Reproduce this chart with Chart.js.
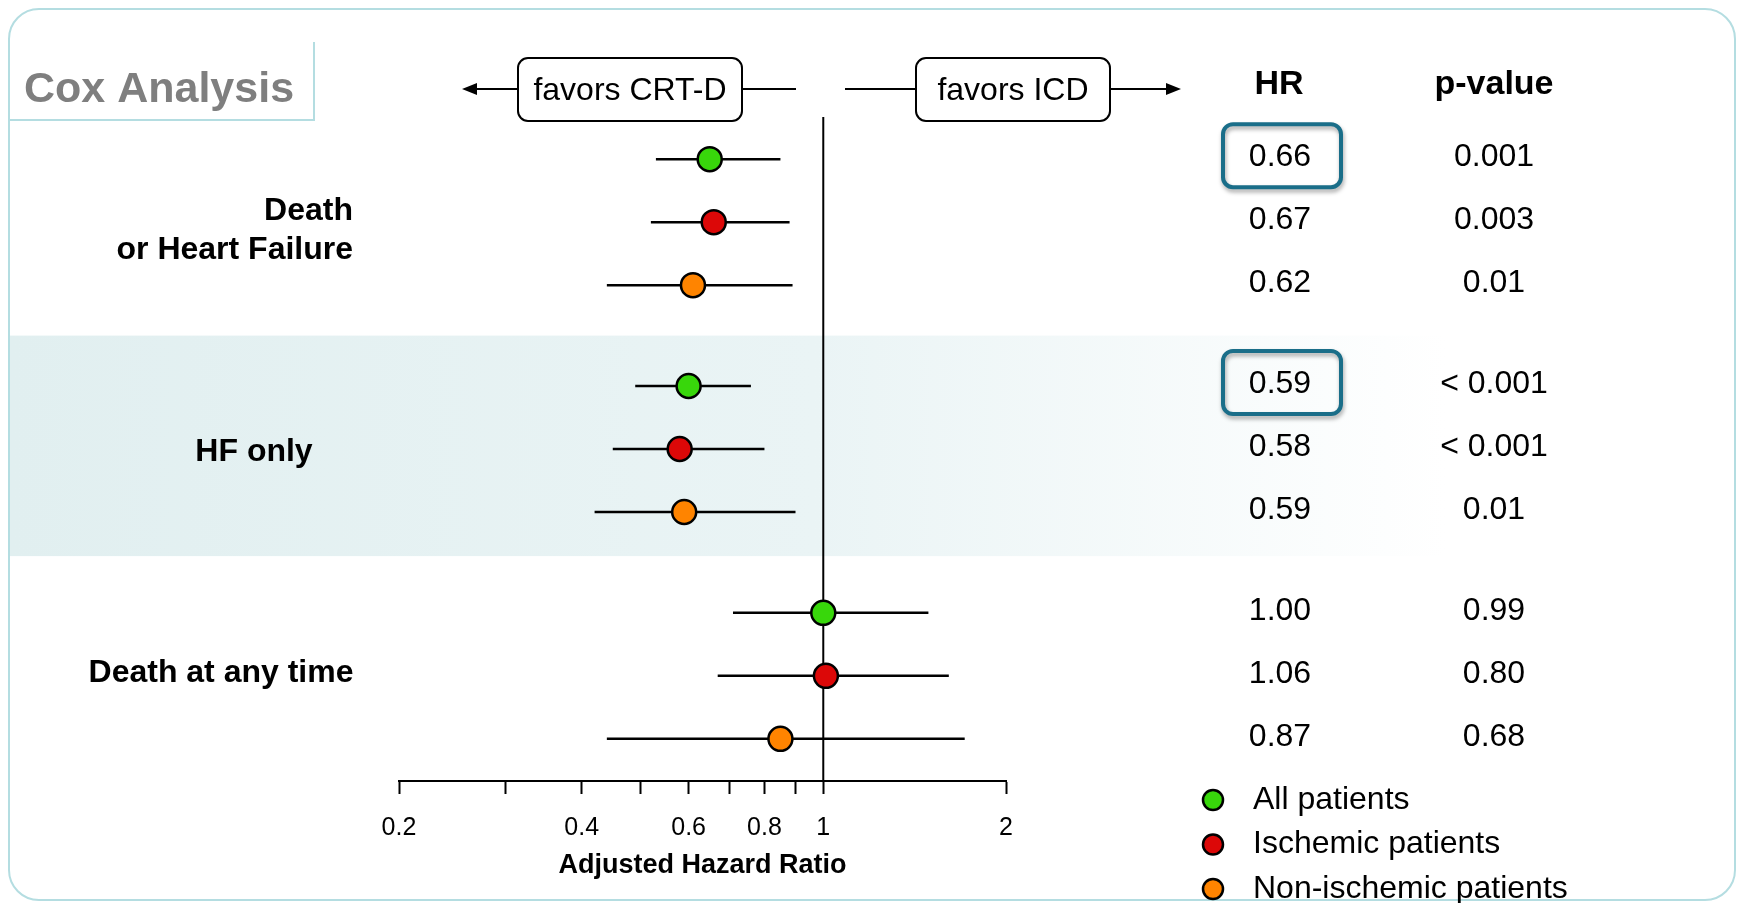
<!DOCTYPE html>
<html>
<head>
<meta charset="utf-8">
<script src="https://cdn.jsdelivr.net/npm/chart.js@4.4.1/dist/chart.umd.min.js"></script>
<style>
  html, body { margin: 0; padding: 0; background: #fff; }
  canvas { display: block; }
</style>
</head>
<body>
<canvas id="coxChart" width="1744" height="903"></canvas>
<script>
// values
const groups = ['Death\nor Heart Failure', 'HF only', 'Death at any time'];
const seriesNames = ['All patients', 'Ischemic patients', 'Non-ischemic patients'];
const seriesColors = ['#38d70b', '#dc0808', '#ff8400'];

// one entry per row: group 1 (all, ischemic, non-ischemic), group 2 ..., group 3 ...
const hrPoint = [0.65, 0.66, 0.61, 0.60, 0.58, 0.59, 1.00, 1.01, 0.85];
const ciLow   = [0.53, 0.52, 0.44, 0.49, 0.45, 0.42, 0.71, 0.67, 0.44];
const ciHigh  = [0.85, 0.88, 0.89, 0.76, 0.80, 0.90, 1.49, 1.61, 1.71];
const hrText  = ['0.66', '0.67', '0.62', '0.59', '0.58', '0.59', '1.00', '1.06', '0.87'];
const pText   = ['0.001', '0.003', '0.01', '< 0.001', '< 0.001', '0.01', '0.99', '0.80', '0.68'];
const highlighted = [0, 3];

const xTicks = [0.2, 0.3, 0.4, 0.5, 0.6, 0.7, 0.8, 0.9, 1, 2];
const xTickLabels = [0.2, 0.4, 0.6, 0.8, 1, 2];

const FONT = '"Liberation Sans", Arial, sans-serif';
Chart.defaults.font.family = FONT;
Chart.defaults.color = '#000';

// row positions on the y scale, groups separated by a gap
const rowPos = [];
groups.forEach((g, gi) => { for (let i = 0; i < 3; i++) rowPos.push(gi * 3.6 + i); });

function roundRect(ctx, x, y, w, h, r) {
  ctx.beginPath();
  ctx.moveTo(x + r, y);
  ctx.arcTo(x + w, y, x + w, y + h, r);
  ctx.arcTo(x + w, y + h, x, y + h, r);
  ctx.arcTo(x, y + h, x, y, r);
  ctx.arcTo(x, y, x + w, y, r);
  ctx.closePath();
}

function arrowHead(ctx, tipX, y, dir) {
  ctx.beginPath();
  ctx.moveTo(tipX, y);
  ctx.lineTo(tipX - dir * 15, y - 6);
  ctx.lineTo(tipX - dir * 15, y + 6);
  ctx.closePath();
  ctx.fill();
}

const pointSets = seriesNames.map((name, s) => ({
  label: name,
  data: groups.map((g, gi) => ({ x: hrPoint[gi * 3 + s], y: rowPos[gi * 3 + s] })),
  backgroundColor: seriesColors[s],
  borderColor: '#000',
  borderWidth: 2.5,
  pointRadius: 12,
  showLine: false,
  order: 0
}));

const ciSets = rowPos.map((yy, r) => ({
  label: 'ci' + r,
  data: [{ x: ciLow[r], y: yy }, { x: ciHigh[r], y: yy }],
  borderColor: '#000',
  borderWidth: 2.5,
  pointRadius: 0,
  showLine: true,
  order: 1
}));

const decor = {
  id: 'decor',
  beforeDraw(chart) {
    const { ctx, scales: { y } } = chart;
    ctx.save();
    ctx.fillStyle = '#fff';
    ctx.fillRect(0, 0, chart.width, chart.height);

    // shaded band behind "HF only"
    const top = y.getPixelForValue(rowPos[3] - 0.8);
    const bot = y.getPixelForValue(rowPos[5] + 0.7);
    const grad = ctx.createLinearGradient(10, 0, 1446, 0);
    grad.addColorStop(0, '#e1eff0');
    grad.addColorStop(0.56, '#eaf4f5');
    grad.addColorStop(1, '#ffffff');
    ctx.fillStyle = grad;
    ctx.fillRect(10, top, 1436, bot - top);

    // frame + title tab
    ctx.strokeStyle = '#b4dde1';
    ctx.lineWidth = 2;
    roundRect(ctx, 9, 9, 1726, 891, 30);
    ctx.stroke();
    ctx.beginPath();
    ctx.moveTo(314, 42); ctx.lineTo(314, 120); ctx.lineTo(10, 120);
    ctx.stroke();
    ctx.fillStyle = '#7f7f7f';
    ctx.font = 'bold 43px ' + FONT;
    ctx.textBaseline = 'middle';
    ctx.textAlign = 'left';
    ctx.fillText('Cox Analysis', 24, 90);

    // favors boxes
    ctx.strokeStyle = '#000';
    ctx.fillStyle = '#000';
    ctx.lineWidth = 2;
    roundRect(ctx, 518, 58, 224, 63, 10); ctx.stroke();
    roundRect(ctx, 916, 58, 194, 63, 10); ctx.stroke();
    ctx.beginPath();
    ctx.moveTo(470, 89); ctx.lineTo(518, 89);
    ctx.moveTo(742, 89); ctx.lineTo(796, 89);
    ctx.moveTo(845, 89); ctx.lineTo(916, 89);
    ctx.moveTo(1110, 89); ctx.lineTo(1172, 89);
    ctx.stroke();
    arrowHead(ctx, 462, 89, -1);
    arrowHead(ctx, 1181, 89, 1);
    ctx.font = '32px ' + FONT;
    ctx.textAlign = 'center';
    ctx.fillText('favors CRT-D', 630, 91);
    ctx.fillText('favors ICD', 1013, 91);

    // table headers
    ctx.font = 'bold 34px ' + FONT;
    ctx.fillText('HR', 1279, 85);
    ctx.fillText('p-value', 1494, 85);
    ctx.restore();
  },
  beforeDatasetsDraw(chart) {
    const { ctx, chartArea, scales: { x } } = chart;
    const x1 = x.getPixelForValue(1);
    ctx.save();
    ctx.strokeStyle = '#000';
    ctx.lineWidth = 2;
    ctx.beginPath();
    ctx.moveTo(x1, chartArea.top);
    ctx.lineTo(x1, chartArea.bottom);
    ctx.stroke();
    ctx.restore();
  },
  afterDraw(chart) {
    const { ctx, scales: { y } } = chart;
    ctx.save();
    ctx.textBaseline = 'middle';

    // highlight boxes
    highlighted.forEach(r => {
      const py = y.getPixelForValue(rowPos[r]);
      ctx.save();
      ctx.shadowColor = 'rgba(0,0,0,0.35)';
      ctx.shadowBlur = 4;
      ctx.shadowOffsetY = 3;
      ctx.shadowOffsetX = 1;
      ctx.strokeStyle = '#1a6e89';
      ctx.lineWidth = 4;
      roundRect(ctx, 1223, py - 35, 118, 63, 10);
      ctx.stroke();
      ctx.restore();
    });

    // HR and p-value columns
    ctx.fillStyle = '#000';
    ctx.font = '32px ' + FONT;
    ctx.textAlign = 'center';
    rowPos.forEach((yy, r) => {
      const py = y.getPixelForValue(yy) - 2;
      ctx.fillText(hrText[r], 1280, py);
      ctx.fillText(pText[r], 1494, py);
    });

    // group labels
    const labelX = [353, 254, 221];
    const labelDy = [3, 3, -3];
    ctx.font = 'bold 32px ' + FONT;
    groups.forEach((g, gi) => {
      const cy = y.getPixelForValue(rowPos[gi * 3 + 1]) + labelDy[gi];
      const lines = g.split('\n');
      ctx.textAlign = lines.length > 1 ? 'right' : 'center';
      lines.forEach((ln, li) => {
        const off = (li - (lines.length - 1) / 2) * 39 + (lines.length > 1 ? 5 : 0);
        ctx.fillText(ln, labelX[gi], cy + off);
      });
    });

    // legend
    ctx.font = '32px ' + FONT;
    ctx.textAlign = 'left';
    seriesNames.forEach((name, s) => {
      const ly = 800 + s * 44.5;
      ctx.beginPath();
      ctx.arc(1213, ly, 10, 0, Math.PI * 2);
      ctx.fillStyle = seriesColors[s];
      ctx.fill();
      ctx.lineWidth = 2.5;
      ctx.strokeStyle = '#000';
      ctx.stroke();
      ctx.fillStyle = '#000';
      ctx.fillText(name, 1253, ly);
    });
    ctx.restore();
  }
};

new Chart(document.getElementById('coxChart'), {
  type: 'scatter',
  data: { datasets: [...pointSets, ...ciSets] },
  plugins: [decor],
  options: {
    responsive: false,
    animation: false,
    devicePixelRatio: 1,
    events: [],
    layout: { padding: { left: 399, right: 738, top: 117, bottom: 12 } },
    plugins: { legend: { display: false }, tooltip: { enabled: false } },
    scales: {
      x: {
        type: 'logarithmic',
        min: 0.2,
        max: 2,
        afterBuildTicks: s => { s.ticks = xTicks.map(v => ({ value: v })); },
        afterFit: s => { s.height = 110; },
        grid: { drawOnChartArea: false, drawTicks: true, tickLength: 13, tickWidth: 2, tickColor: '#000' },
        border: { display: true, color: '#000', width: 2 },
        ticks: {
          autoSkip: false,
          maxRotation: 0,
          padding: 19,
          font: { size: 25 },
          color: '#000',
          callback: v => xTickLabels.includes(v) ? String(v) : ''
        },
        title: {
          display: true,
          text: 'Adjusted Hazard Ratio',
          font: { size: 27, weight: 'bold' },
          color: '#000',
          padding: { top: 0, bottom: 9 }
        }
      },
      y: {
        type: 'linear',
        reverse: true,
        min: -0.67,
        max: 9.87,
        display: false
      }
    }
  }
});
</script>
</body>
</html>
